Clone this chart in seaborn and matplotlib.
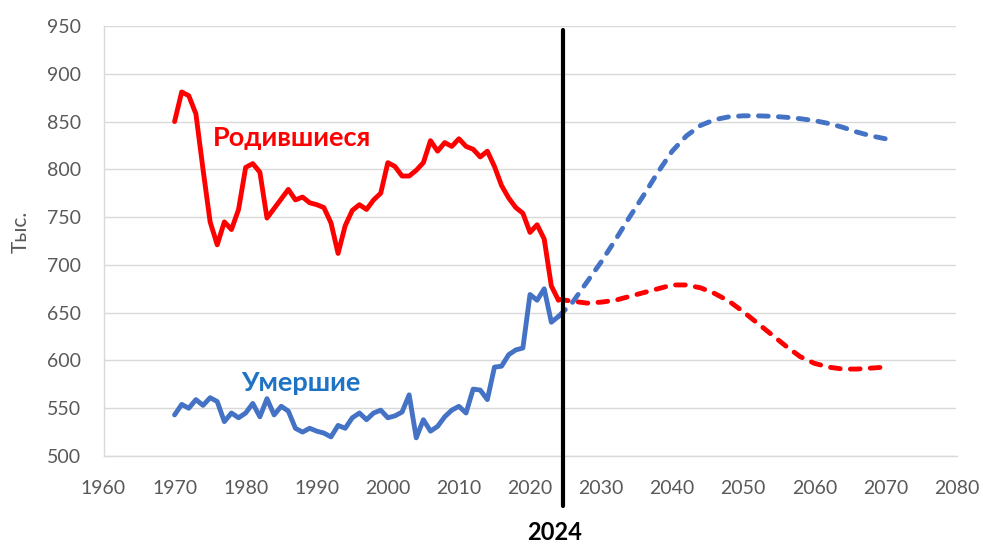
import matplotlib
matplotlib.use('Agg')

import numpy as np
import pandas as pd
import seaborn as sns
from matplotlib import pyplot as plt

# Historic data, thousands per year
years_hist = list(range(1970, 2025))
births_hist = [850, 881, 877, 858, 800, 745, 721, 745, 737, 758,
               802, 806, 797, 749, 759, 769, 779, 768, 771, 765,
               763, 760, 744, 712, 741, 757, 763, 758, 768, 775,
               807, 803, 793, 793, 799, 807, 830, 819, 828, 824,
               832, 824, 821, 813, 819, 803, 783, 770, 760, 754,
               734, 742, 727, 678, 663]
deaths_hist = [543, 554, 550, 559, 553, 561, 557, 536, 545, 540,
               545, 555, 541, 560, 543, 552, 547, 529, 525, 529,
               526, 524, 520, 532, 529, 540, 545, 538, 545, 548,
               540, 542, 546, 564, 519, 538, 526, 531, 541, 548,
               552, 545, 570, 569, 559, 593, 594, 606, 611, 613,
               669, 663, 675, 640, 646]

# Projection (dashed)
years_proj = list(range(2024, 2071, 2))
births_proj = [664, 662, 660, 661, 663, 667, 671, 675, 679, 679,
               676, 670, 662, 651, 639, 627, 615, 604, 597, 593,
               591, 591, 592, 593]
deaths_proj = [646, 661, 682, 703, 726, 750, 773, 797, 819, 835,
               846, 852, 855, 856, 856, 855.5, 854.5, 853, 851, 848,
               844, 839, 835, 832]

x_ticks = list(range(1960, 2081, 10))
y_ticks = list(range(500, 951, 50))
marker_year = 2024.6
marker_label = "2024"

RED = '#FF0000'
BLUE = '#4472C4'
GREY = '#595959'

hist = pd.DataFrame({'year': years_hist, 'births': births_hist, 'deaths': deaths_hist})
proj = pd.DataFrame({'year': years_proj, 'births': births_proj, 'deaths': deaths_proj})

sns.set_theme(style="white")
plt.rcParams['font.family'] = ['Lato', 'DejaVu Sans']

fig = plt.figure(figsize=(9.83, 5.44), dpi=100)
ax = fig.add_axes([103.5 / 983, 1 - 456 / 544, 853 / 983, 430 / 544])

# Solid historic lines
sns.lineplot(data=hist, x='year', y='births', ax=ax, color=RED, lw=3.5,
             solid_capstyle='round', solid_joinstyle='round')
sns.lineplot(data=hist, x='year', y='deaths', ax=ax, color=BLUE, lw=3.5,
             solid_capstyle='round', solid_joinstyle='round')

# Dashed projections
for col, c in [('births', RED), ('deaths', BLUE)]:
    sns.lineplot(data=proj, x='year', y=col, ax=ax, color=c, lw=3.5)
    line = ax.lines[-1]
    line.set_dashes((2.0, 2.1))
    line.set_dash_capstyle('round')

# Vertical marker
ax.axvline(marker_year, ymin=-0.116, ymax=0.99, color='black', lw=3,
           clip_on=False, zorder=5)

ax.set_xlim(1960, 2080)
ax.set_ylim(500, 950)
ax.set_xticks(x_ticks)
ax.set_yticks(y_ticks)
ax.tick_params(axis='both', length=0, labelsize=14, labelcolor=GREY)
ax.tick_params(axis='x', pad=17)
ax.tick_params(axis='y', pad=16)
ax.set_xlabel('')
ax.set_ylabel('')

ax.yaxis.grid(True, color='#D9D9D9', lw=1)
ax.xaxis.grid(False)
for side in ['top', 'right']:
    ax.spines[side].set_visible(False)
for side in ['left', 'bottom']:
    ax.spines[side].set_color('#D9D9D9')
    ax.spines[side].set_linewidth(1)

# Labels
ax.text(1986.5, 833, 'Родившиеся', color=RED, fontsize=19.5, fontweight='bold',
        ha='center', va='center')
ax.text(1987.8, 576, 'Умершие', color='#1F73C4', fontsize=19.5, fontweight='bold',
        ha='center', va='center')
fig.text(555 / 983, 1 - 533 / 544, marker_label, fontsize=17, fontweight='bold',
         color='black', ha='center', va='center')
fig.text(21 / 983, 1 - 232 / 544, 'Тыс.', fontsize=15, color=GREY, rotation=90,
         ha='center', va='center')

fig.savefig('out.png', dpi=100)
